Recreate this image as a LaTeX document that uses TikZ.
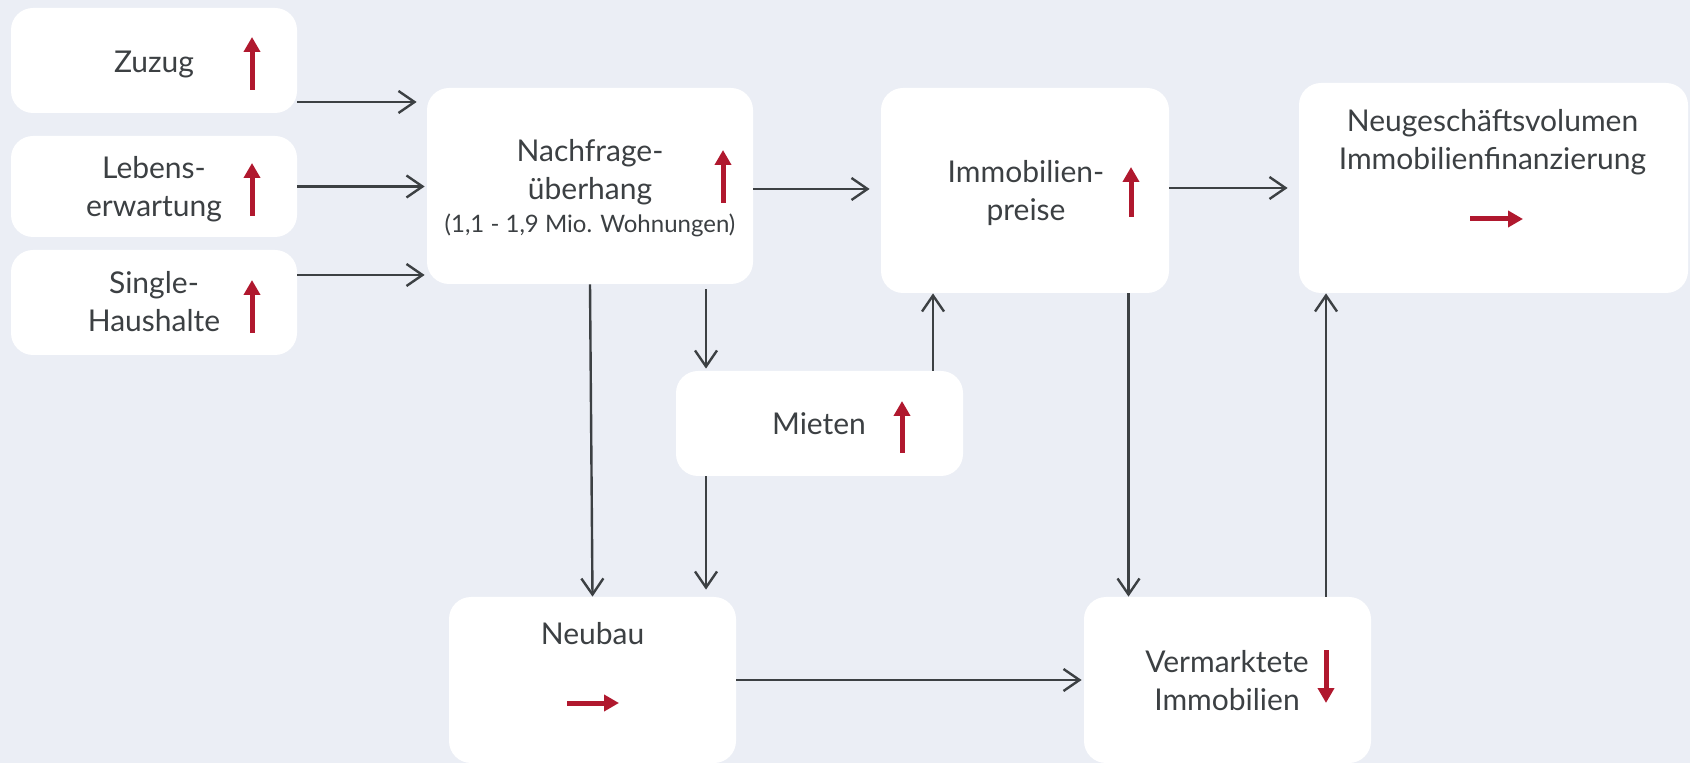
\documentclass[tikz,border=0pt]{standalone}
\usepackage{fontspec}
\setmainfont{Lato}
\usetikzlibrary{arrows.meta}

\definecolor{bgcol}{RGB}{235,238,245}
\definecolor{ink}{RGB}{60,64,67}
\definecolor{trendred}{RGB}{176,24,46}

\tikzset{
  box/.style={fill=white, rounded corners=11pt, inner sep=0pt},
  txt/.style={text=ink, font=\fontsize{15}{19}\selectfont, align=center, inner sep=0pt},
  conn/.style={draw=ink, line width=1.2pt, -{Straight Barb[length=8pt,width=11pt]}},
  trend/.style={draw=trendred, line width=2.5pt, -{Triangle[length=7.5pt,width=8pt]}}
}

\begin{document}
\begin{tikzpicture}[x=0.5pt,y=-0.5pt]

\useasboundingbox (0,0) rectangle (1690,763);
\fill[bgcol] (0,0) rectangle (1690,763);

% boxes
\node[box, minimum width=143pt, minimum height=52.5pt] (zuzug) at (154,60.5) {};
\node[box, minimum width=143pt, minimum height=50.5pt] (lebens) at (154,186.5) {};
\node[box, minimum width=143pt, minimum height=52.5pt] (single) at (154,302.5) {};
\node[box, minimum width=163pt, minimum height=98pt] (nachfrage) at (590,186) {};
\node[box, minimum width=144pt, minimum height=102.5pt] (preise) at (1025,190.5) {};
\node[box, minimum width=194.5pt, minimum height=105pt] (neug) at (1493.5,188) {};
\node[box, minimum width=143.5pt, minimum height=52.5pt] (mieten) at (819.5,423.5) {};
\node[box, minimum width=143.5pt, minimum height=83pt] (neubau) at (592.5,680) {};
\node[box, minimum width=143.5pt, minimum height=83pt] (vermarktet) at (1227.5,680) {};

% texts
\node[txt] (zuzugtxt) at (154,64.25) {Zuzug};
\node[txt] (lebenstxt) at (154,189.5) {Lebens-\\erwartung};
\node[txt] (singletxt) at (154,302) {Single-\\Haushalte};
\node[txt] (nachfragetxt) at (590,172.5) {Nachfrage-\\überhang};
\node[txt, font=\fontsize{12}{14}\selectfont, anchor=base] (nachfragesub) at (590,233) {(1,1 - 1,9 Mio. Wohnungen)};
\node[txt] (preisetxt) at (1026,193.5) {Immobilien-\\preise};
\node[txt] (neugtxt) at (1492.5,142.5) {Neugeschäftsvolumen\\Immobilienfinanzierung};
\node[txt] (mietentxt) at (819,424) {Mieten};
\node[txt] (neubautxt) at (592.5,634) {Neubau};
\node[txt] (vermarktettxt) at (1227,681) {Vermarktete\\Immobilien};

% connectors
\draw[conn, shorten >=5pt] (zuzug.east) ++(0,41.5) coordinate (z1) -- (z1 -| nachfrage.west);
\draw[conn, shorten >=1pt] (lebens.east) -- (lebens.east -| nachfrage.west);
\draw[conn, shorten >=1pt] (single.east) ++(0,-27.5) coordinate (s1) -- (s1 -| nachfrage.west);
\draw[conn, shorten >=5.5pt] (nachfrage.east) ++(0,3) coordinate (n1) -- (n1 -| preise.west);
\draw[conn, shorten >=5.5pt] (preise.east) ++(0,-2.5) coordinate (p1) -- (p1 -| neug.west);
\draw[conn] (nachfrage.south) -- (neubau.north);
\draw[conn, shorten >=1pt] (nachfrage.south) ++(116,5) coordinate (n2) -- (n2 |- mieten.north);
\draw[conn, shorten >=3.5pt] (mieten.south -| n2) -- (n2 |- neubau.north);
\draw[conn] (mieten.north) ++(113.5,0) coordinate (m1) -- (m1 |- preise.south);
\draw[conn] (preise.south) ++(103.5,0) coordinate (p2) -- (p2 |- vermarktet.north);
\draw[conn] (vermarktet.north) ++(98.5,0) coordinate (v1) -- (v1 |- neug.south);
\draw[conn, shorten >=1pt] (neubau.east) -- (neubau.east -| vermarktet.west);

% trend arrows
\foreach \y in {90,216,333}
  \draw[trend] (252,\y) -- ++(0,-53);
\draw[trend] (723,203) -- (723,150);
\draw[trend] (1131,217) -- (1131,167);
\draw[trend] (902,453) -- (902,401);
\draw[trend] (1326,650) -- (1326,703);
\draw[trend] (1470,219) -- (1523,219);
\draw[trend] (567,703) -- (619,703);

\end{tikzpicture}
\end{document}
